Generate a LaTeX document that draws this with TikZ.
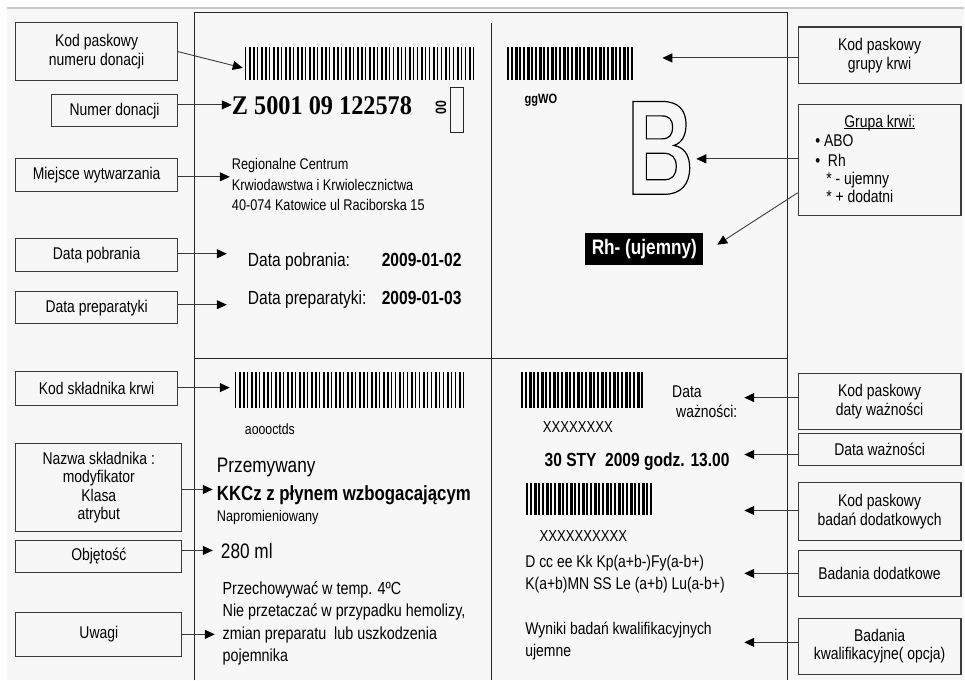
\documentclass[tikz,border=0pt]{standalone}
\usepackage{fontspec}
\setmainfont[FakeStretch=0.82]{Liberation Sans}
\newfontfamily\numfont[FakeStretch=0.9]{Liberation Serif}
\newfontfamily\bigfont[FakeStretch=0.69]{Liberation Sans}
\usetikzlibrary{arrows.meta,calc}
\definecolor{Paper}{HTML}{F7F7F7}
\definecolor{Edge}{HTML}{C8C8C8}
\definecolor{Ink}{HTML}{3A3A3A}
\newcommand\fsz[2]{\fontsize{#1}{#2}\selectfont}
\newcommand\hollow[1]{\special{pdf:literal direct 1 Tr 1.2 w}#1\special{pdf:literal direct 0 Tr}}

\begin{document}
\begin{tikzpicture}[x=1pt,y=-1pt,
  lbox/.style={draw=Ink,line width=1.1pt,align=center,inner sep=0pt,font=\fsz{17}{18.5}},
  arr/.style={draw=Ink,line width=0.9pt,-{Triangle[length=10pt,width=9pt,color=black]}},
  frame/.style={draw=black!85,line width=1pt},
  txt/.style={inner sep=0pt,anchor=base west,font=\fsz{17}{21}},
  blk/.style={inner sep=0pt,anchor=north west,align=left}
]
% background
\fill[white] (0,0) rectangle (965,681);
\fill[Paper] (7,8) rectangle (965,681);
\draw[Edge,line width=2pt] (7,8) -- (965,8);
\useasboundingbox (0,0) rectangle (965,681);

% label frame
\draw[frame] (195,681) -- (195,12.7) -- (788,12.7) -- (788,681);
\draw[frame] (492,23) -- (492,681);
\draw[frame] (195,359) -- (788,359);

% left boxes
\node[lbox,minimum width=162,minimum height=58] (bKodNum) at (96.7,51.7) {Kod paskowy\\numeru donacji};
\node[lbox,minimum width=126,minimum height=32.3] (bNumer) at (114.7,110.8) {Numer donacji};
\node[lbox,minimum width=162,minimum height=32.7] (bMiejsce) at (96.7,175.3) {Miejsce wytwarzania};
\node[lbox,minimum width=162,minimum height=32.7] (bPobr) at (96.7,255.3) {Data pobrania};
\node[lbox,minimum width=162,minimum height=32] (bPrep) at (96.7,308) {Data preparatyki};
\node[lbox,minimum width=162,minimum height=34] (bKodSkl) at (96.7,389) {Kod składnika krwi};
\node[lbox,minimum width=166.3,minimum height=88] (bNazwa) at (98.9,488) {Nazwa składnika :\\modyfikator\\Klasa\\atrybut};
\node[lbox,minimum width=166.3,minimum height=32] (bObj) at (98.9,557) {Objętość};
\node[lbox,minimum width=166.3,minimum height=44] (bUwagi) at (98.9,635) {Uwagi};

% right boxes
\node[lbox,minimum width=163,minimum height=57] (bKodGr) at (880.5,55.5) {Kod paskowy\\grupy krwi};
\node[lbox,minimum width=163,minimum height=111] (bGrupa) at (880.5,160.5) {};
\node[lbox,minimum width=163,minimum height=56] (bKodDaty) at (880.5,402) {Kod paskowy\\daty ważności};
\node[lbox,minimum width=163,minimum height=32] (bDataWaz) at (880.5,450) {Data ważności};
\node[lbox,minimum width=163,minimum height=58] (bKodBad) at (880.5,512) {Kod paskowy\\badań dodatkowych};
\node[lbox,minimum width=163,minimum height=46] (bBadDod) at (880.5,574) {Badania dodatkowe};
\node[lbox,minimum width=163,minimum height=56] (bBadKw) at (880.5,647) {Badania\\kwalifikacyjne( opcja)};

\node[txt,anchor=base] (gTytul) at (880.8,127.3) {\underline{\raisebox{0pt}[\height][0pt]{Grupa krwi:}}};
\node[txt] (gAbo) at (816,146.7) {\textbullet\ ABO};
\node[txt] (gRh) at (816,166.7) {\textbullet\ \ Rh};
\node[txt] (gMinus) at (827,184.3) {* - ujemny};
\node[txt] (gPlus) at (827,202.3) {* + dodatni};

% upper left field
\foreach \i [evaluate=\i as \w using {1.4+0.5*mod(\i,3)}] in {0,...,57}
  \fill ({245+4*\i},47) rectangle +(\w,33);
\node[txt,font=\numfont\bfseries\fsz{27}{27}] (tNumer) at (232,115) {Z 5001 09 122578};
\node[inner sep=0pt,rotate=90,font=\bfseries\fsz{15}{15}] (tKontrola) at (441.5,108) {00};
\node[draw=black!85,line width=1pt,minimum width=13.3,minimum height=45,inner sep=0pt] (rKontrola) at (457.4,110.5) {};
\node[blk,font=\fsz{15.5}{20.5}] (tMiejsce) at (232,158.7) {Regionalne Centrum\\Krwiodawstwa i Krwiolecznictwa\\40-074 Katowice ul Raciborska 15};
\node[txt,font=\fsz{19}{19}] (tPobrL) at (248,266.7) {Data pobrania:};
\node[txt,font=\bfseries\fsz{19}{19}] (tPobrD) at (382,266.7) {2009-01-02};
\node[txt,font=\fsz{19}{19}] (tPrepL) at (248,305) {Data preparatyki:};
\node[txt,font=\bfseries\fsz{19}{19}] (tPrepD) at (382,305) {2009-01-03};

% upper right field
\foreach \i [evaluate=\i as \w using {1.4+0.5*mod(\i,3)}] in {0,...,31}
  \fill ({508+4*\i},47) rectangle +(\w,33);
\node[txt,font=\bfseries\fsz{13.5}{13.5}] (tGrKod) at (525,103.3) {ggWO};
\node[inner sep=0pt,font=\bigfont\bfseries\fsz{135}{135}] (tGrupa) at (661,148) {\hollow{B}};
\node[fill=black,text=white,font=\bfseries\fsz{21}{21},minimum width=118,minimum height=32,inner sep=0pt] (tRh) at (645,249) {Rh- (ujemny)};

% lower left field
\foreach \i [evaluate=\i as \w using {1.4+0.5*mod(\i,3)}] in {0,...,57}
  \fill ({235+4*\i},372) rectangle +(\w,36);
\node[txt,font=\fsz{15}{15}] (tSklKod) at (245,435) {aoooctds};
\node[txt,font=\fsz{21}{21}] (tMod) at (217,472.7) {Przemywany};
\node[txt,font=\bfseries\fsz{20.5}{20.5}] (tNazwa) at (217,501) {KKCz z płynem wzbogacającym};
\node[txt,font=\fsz{15.5}{15.5}] (tAtr) at (217,521.7) {Napromieniowany};
\node[txt,font=\fsz{21}{21}] (tObj) at (221,559.3) {280 ml};
\node[blk,font=\fsz{17.5}{22.3}] (tUwagi) at (222.7,582.2) {Przechowywać w temp. 4ºC\\Nie przetaczać w przypadku hemolizy,\\zmian preparatu\ \ lub uszkodzenia\\pojemnika};

% lower right field
\foreach \i [evaluate=\i as \w using {1.4+0.5*mod(\i,3)}] in {0,...,30}
  \fill ({522+4*\i},372) rectangle +(\w,36);
\node[txt,font=\fsz{16}{16}] (tDatKod) at (543.3,432.7) {XXXXXXXX};
\node[txt] (tDataL1) at (672.7,398.3) {Data};
\node[txt] (tDataL2) at (676.7,418.3) {ważności:};
\node[txt,font=\bfseries\fsz{19}{19}] (tDataWaz) at (545,466.7) {30 STY\ \ 2009 godz. 13.00};
\foreach \i [evaluate=\i as \w using {1.4+0.5*mod(\i,3)}] in {0,...,31}
  \fill ({527+4*\i},483) rectangle +(\w,33);
\node[txt,font=\fsz{16}{16}] (tBadKod) at (540,541.7) {XXXXXXXXXX};
\node[blk,font=\fsz{17}{22}] (tBad) at (525.7,555.6) {D cc ee Kk Kp(a+b-)Fy(a-b+)\\K(a+b)MN SS Le (a+b) Lu(a-b+)};
\node[blk,font=\fsz{17}{21.7}] (tWyniki) at (525.7,622.6) {Wyniki badań kwalifikacyjnych\\ujemne};

% arrows
\coordinate (pKodNum) at (243,68);
\coordinate (pNumer) at (232,105);
\coordinate (pMiejsce) at (230,177);
\coordinate (pPobr) at (227,254);
\coordinate (pPrep) at (227,305);
\coordinate (pKodSkl) at (230,388);
\coordinate (pNazwa) at (213,490);
\coordinate (pObj) at (213,551);
\coordinate (pUwagi) at (215,635);
\coordinate (pKodGr) at (663,58);
\coordinate (pGrupaB) at (697,159);
\coordinate (pGrupaRh) at (718,245);
\coordinate (pKodDaty) at (745,398);
\coordinate (pDataWaz) at (745,455);
\coordinate (pKodBad) at (745,511);
\coordinate (pBadDod) at (745,574);
\coordinate (pBadKw) at (745,643);
\draw[arr] (bKodNum.east) -- (pKodNum);
\draw[arr] (bNumer.east |- pNumer) -- (pNumer);
\draw[arr] (bMiejsce.east |- pMiejsce) -- (pMiejsce);
\draw[arr] (bPobr.east |- pPobr) -- (pPobr);
\draw[arr] (bPrep.east |- pPrep) -- (pPrep);
\draw[arr] (bKodSkl.east |- pKodSkl) -- (pKodSkl);
\draw[arr] (bNazwa.east |- pNazwa) -- (pNazwa);
\draw[arr] (bObj.east |- pObj) -- (pObj);
\draw[arr] (bUwagi.east |- pUwagi) -- (pUwagi);
\draw[arr] (bKodGr.west |- pKodGr) -- (pKodGr);
\draw[arr] (bGrupa.west |- pGrupaB) -- (pGrupaB);
\draw[arr] ([yshift=-32.5pt]bGrupa.west) -- (pGrupaRh);
\draw[arr] (bKodDaty.west |- pKodDaty) -- (pKodDaty);
\draw[arr] (bDataWaz.west |- pDataWaz) -- (pDataWaz);
\draw[arr] (bKodBad.west |- pKodBad) -- (pKodBad);
\draw[arr] (bBadDod.west |- pBadDod) -- (pBadDod);
\draw[arr] (bBadKw.west |- pBadKw) -- (pBadKw);
\end{tikzpicture}
\end{document}
